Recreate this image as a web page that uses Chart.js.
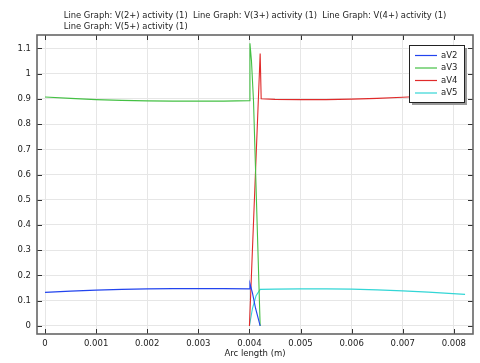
<!DOCTYPE html>
<html>
<head>
<meta charset="utf-8">
<script src="https://cdn.jsdelivr.net/npm/chart.js@4.4.1/dist/chart.umd.min.js"></script>
<style>
  html, body { margin: 0; padding: 0; background: #fff; }
  #wrap { width: 480px; height: 363px; }
</style>
</head>
<body>
<div id="wrap"><canvas id="chart" width="480" height="363"></canvas></div>
<script>
// Title lines and axis ticks
const titleLines = [
    'Line Graph: V(2+) activity (1)  Line Graph: V(3+) activity (1)  Line Graph: V(4+) activity (1)',
    'Line Graph: V(5+) activity (1)'
];
const xTicks = [0, 0.001, 0.002, 0.003, 0.004, 0.005, 0.006, 0.007, 0.008];
const yTicks = [0, 0.1, 0.2, 0.3, 0.4, 0.5, 0.6, 0.7, 0.8, 0.9, 1, 1.1];

// aV2 - left domain then spike down at the interface
const aV2X = [0, 0.0005, 0.001, 0.0015, 0.002, 0.0025, 0.003, 0.0035, 0.004, 0.00401, 0.00406, 0.00412, 0.00421];
const aV2Y = [0.133, 0.138, 0.142, 0.145, 0.147, 0.148, 0.148, 0.148, 0.147, 0.168, 0.13, 0.07, 0.0];

// aV3 - left domain, peak at interface, falling to zero
const aV3X = [0, 0.0005, 0.001, 0.0015, 0.002, 0.0025, 0.003, 0.0035, 0.004, 0.00401, 0.00404, 0.00408, 0.00421];
const aV3Y = [0.907, 0.902, 0.897, 0.894, 0.892, 0.891, 0.891, 0.891, 0.893, 1.12, 1.05, 0.89, 0.0];

// aV4 - rises from zero at interface, then right domain
const aV4X = [0.004, 0.00421, 0.00423, 0.0045, 0.005, 0.0055, 0.006, 0.0065, 0.007, 0.0075, 0.00822];
const aV4Y = [0.0, 1.08, 0.9, 0.898, 0.897, 0.897, 0.899, 0.902, 0.906, 0.911, 0.918];

// aV5 - rises from zero at interface, then right domain
const aV5X = [0.004, 0.00406, 0.00413, 0.00421, 0.0045, 0.005, 0.0055, 0.006, 0.0065, 0.007, 0.0075, 0.00822];
const aV5Y = [0.0, 0.07, 0.12, 0.145, 0.146, 0.147, 0.147, 0.146, 0.143, 0.139, 0.134, 0.125];

const seriesNames = ['aV2', 'aV3', 'aV4', 'aV5'];
const seriesColors = ['#2244ee', '#44c044', '#e02a2a', '#33d6d6'];

const FONT = 'DejaVu Sans';

function zip(xs, ys) {
    return xs.map((x, i) => ({ x: x, y: ys[i] }));
}

function fmt(v) {
    return String(Number(v.toFixed(4)));
}

// Two-line title block, centred over the plot area, lines left-aligned
const titlePlugin = {
    id: 'comsolTitle',
    afterDraw(chart) {
        const ctx = chart.ctx;
        const area = chart.chartArea;
        ctx.save();
        ctx.font = '8.4px "' + FONT + '"';
        ctx.fillStyle = '#222';
        ctx.textBaseline = 'middle';
        ctx.textAlign = 'left';
        const w = ctx.measureText(titleLines[0]).width;
        const x0 = (area.left + area.right) / 2 - w / 2;
        titleLines.forEach((line, i) => {
            ctx.fillText(line, x0, 16 + i * 11);
        });
        ctx.restore();
    }
};

// Frame around the plot with inward tick marks on all four sides
const framePlugin = {
    id: 'frame',
    afterDatasetsDraw(chart) {
        const ctx = chart.ctx;
        const a = chart.chartArea;
        const xs = chart.scales.x;
        const ys = chart.scales.y;
        ctx.save();
        ctx.strokeStyle = '#333';
        ctx.lineWidth = 1;
        ctx.beginPath();
        xTicks.forEach(v => {
            const px = Math.round(xs.getPixelForValue(v)) + 0.5;
            ctx.moveTo(px, a.bottom);
            ctx.lineTo(px, a.bottom - 5);
            ctx.moveTo(px, a.top);
            ctx.lineTo(px, a.top + 5);
        });
        yTicks.forEach(v => {
            const py = Math.round(ys.getPixelForValue(v)) + 0.5;
            ctx.moveTo(a.left, py);
            ctx.lineTo(a.left + 5, py);
            ctx.moveTo(a.right, py);
            ctx.lineTo(a.right - 5, py);
        });
        ctx.stroke();
        ctx.strokeStyle = '#666';
        ctx.lineWidth = 1.6;
        ctx.strokeRect(a.left, a.top, a.right - a.left, a.bottom - a.top);
        ctx.restore();
    }
};

// Legend box in the top right corner of the plot
const legendPlugin = {
    id: 'boxLegend',
    afterDraw(chart) {
        const ctx = chart.ctx;
        const a = chart.chartArea;
        const bx = a.right - 64, by = a.top + 10, bw = 55, bh = 57;
        ctx.save();
        ctx.fillStyle = '#999';
        ctx.fillRect(bx + 3, by + 3, bw, bh);
        ctx.fillStyle = '#fff';
        ctx.fillRect(bx, by, bw, bh);
        ctx.strokeStyle = '#222';
        ctx.lineWidth = 1;
        ctx.strokeRect(bx + 0.5, by + 0.5, bw, bh);
        ctx.font = '8.5px "' + FONT + '"';
        ctx.textBaseline = 'middle';
        ctx.textAlign = 'left';
        seriesNames.forEach((name, i) => {
            const y = by + 10.5 + i * 12.5;
            ctx.strokeStyle = seriesColors[i];
            ctx.lineWidth = 1.2;
            ctx.beginPath();
            ctx.moveTo(bx + 6, y);
            ctx.lineTo(bx + 28, y);
            ctx.stroke();
            ctx.fillStyle = '#222';
            ctx.fillText(name, bx + 32, y);
        });
        ctx.restore();
    }
};

const seriesX = [aV2X, aV3X, aV4X, aV5X];
const seriesY = [aV2Y, aV3Y, aV4Y, aV5Y];

const datasets = seriesNames.map((name, i) => ({
    label: name,
    data: zip(seriesX[i], seriesY[i]),
    borderColor: seriesColors[i],
    backgroundColor: seriesColors[i],
    borderWidth: 1.1,
    pointRadius: 0,
    tension: 0,
    fill: false
}));

const tickFont = { family: FONT, size: 8.5 };

new Chart(document.getElementById('chart').getContext('2d'), {
    type: 'line',
    data: { datasets: datasets },
    options: {
        responsive: false,
        animation: false,
        devicePixelRatio: 1,
        layout: { padding: { top: 35, right: 7, left: 0, bottom: 0 } },
        plugins: {
            legend: { display: false },
            title: { display: false },
            tooltip: { enabled: false }
        },
        scales: {
            x: {
                type: 'linear',
                min: -0.000157,
                max: 0.008375,
                afterBuildTicks: s => { s.ticks = xTicks.map(v => ({ value: v })); },
                afterFit: s => { s.height = 29; },
                ticks: {
                    callback: v => fmt(v),
                    font: tickFont,
                    color: '#222',
                    maxRotation: 0,
                    autoSkip: false,
                    padding: 5
                },
                grid: { color: '#e6e6e6', drawTicks: false },
                border: { display: false },
                title: {
                    display: true,
                    text: 'Arc length (m)',
                    font: tickFont,
                    color: '#222',
                    padding: { top: 0, bottom: 4 }
                }
            },
            y: {
                type: 'linear',
                min: -0.032,
                max: 1.153,
                afterBuildTicks: s => { s.ticks = yTicks.map(v => ({ value: v })); },
                afterFit: s => { s.width = 37; },
                ticks: {
                    callback: v => fmt(v),
                    font: tickFont,
                    color: '#222',
                    autoSkip: false,
                    padding: 6
                },
                grid: { color: '#e6e6e6', drawTicks: false },
                border: { display: false }
            }
        }
    },
    plugins: [titlePlugin, framePlugin, legendPlugin]
});
</script>
</body>
</html>
